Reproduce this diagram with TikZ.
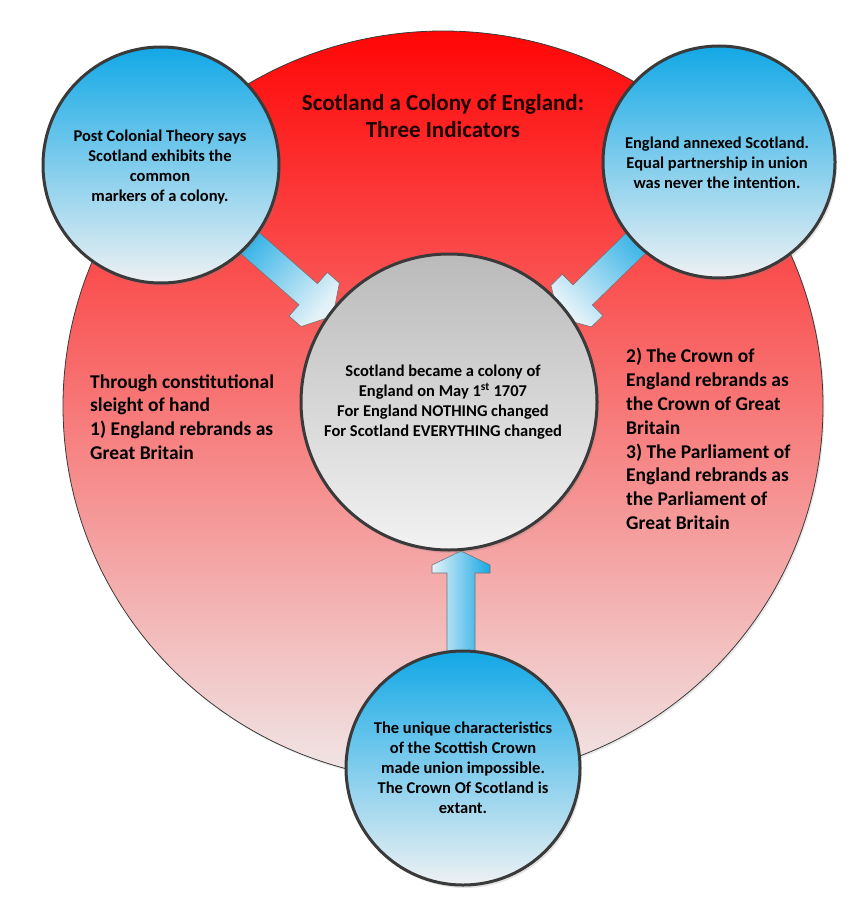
\documentclass[tikz,border=0pt]{standalone}
\usepackage{fontspec}
\setmainfont{Carlito}
\usetikzlibrary{calc,shadows,shapes.geometric}
\definecolor{redtop}{RGB}{255,6,6}
\definecolor{redmid}{RGB}{248,112,112}
\definecolor{redbot}{RGB}{240,232,232}
\definecolor{bluetop}{RGB}{18,168,230}
\definecolor{bluemid}{RGB}{95,195,236}
\definecolor{bluebot}{RGB}{238,241,243}
\definecolor{greytop}{RGB}{186,186,186}
\definecolor{greybot}{RGB}{242,242,242}
\definecolor{rimcol}{RGB}{58,58,58}
\definecolor{arrowblue}{RGB}{24,168,228}
\definecolor{arrowlight}{RGB}{228,242,248}
% #1 prefix, #2 tip, #3 tail, #4 shaft length, #5 tip-to-corner, #6 tip-to-back, #7 style
\newcommand{\blockarrow}[7]{%
  \coordinate (#1h1) at ($(#2)!#5pt!(#3)$);
  \coordinate (#1h2) at ($(#2)!#6pt!(#3)$);
  \coordinate (#1e) at ($(#2)!#4pt!(#3)$);
  \path[#7] (#2) -- ($(#1h1)!29pt!90:(#2)$) -- ($(#1h2)!29pt!90:(#2)$)
    -- ($(#1h2)!14pt!90:(#2)$) -- ($(#1e)!14pt!90:(#2)$)
    -- ($(#1e)!14pt!-90:(#2)$) -- ($(#1h2)!14pt!-90:(#2)$)
    -- ($(#1h2)!29pt!-90:(#2)$) -- ($(#1h1)!29pt!-90:(#2)$) -- cycle;
}
\tikzset{
  bigdisc/.style={ellipse, inner sep=0pt, outer sep=0pt, draw=rimcol, line width=0.8pt,
    top color=redtop, middle color=redmid, bottom color=redbot,
    drop shadow={shadow xshift=1.5pt, shadow yshift=-2pt, opacity=0.18}},
  bluedisc/.style={circle, inner sep=0pt, outer sep=0pt, draw=rimcol, line width=3pt,
    top color=bluetop, middle color=bluemid, bottom color=bluebot,
    drop shadow={shadow xshift=2pt, shadow yshift=-3pt, opacity=0.22}},
  greydisc/.style={circle, inner sep=0pt, outer sep=0pt, draw=rimcol, line width=3pt,
    top color=greytop, bottom color=greybot,
    drop shadow={shadow xshift=2pt, shadow yshift=-3pt, opacity=0.22}},
  arrowbody/.style={draw=black!55, line width=0.6pt, left color=arrowlight, right color=arrowblue},
  bodytxt/.style={font=\bfseries\fontsize{16.5}{20}\selectfont, align=center, text=black, inner sep=0pt},
  sidetxt/.style={font=\bfseries\fontsize{19.5}{23.8}\selectfont, align=left, text=black, inner sep=0pt, anchor=west},
  titletxt/.style={font=\bfseries\fontsize{23}{27}\selectfont, align=center, text={rgb,255:red,30;green,0;blue,0}, inner sep=0pt}
}
\begin{document}
\begin{tikzpicture}[x=1pt,y=-1pt]
\useasboundingbox (0,0) rectangle (864,904);
% big red disc
\node[bigdisc, minimum width=760pt, minimum height=750pt] (big) at (443,406) {};
% discs positions (nodes drawn after the arrows)
\coordinate (tailA) at (161,165);
\coordinate (tipA) at (333,316);
\coordinate (tailB) at (719,162);
\coordinate (tipB) at (559,318);
\coordinate (tailC) at (461,768);
\coordinate (tipC) at (461,551);
\blockarrow{a}{tipA}{tailA}{140}{17}{33}{arrowbody, shading angle=-131}
\blockarrow{b}{tipB}{tailB}{140}{17}{33}{arrowbody, shading angle=134}
\blockarrow{c}{tipC}{tailC}{120}{14}{22}{arrowbody}
% discs
\node[bluedisc, minimum size=236pt] (tl) at (tailA) {};
\node[bluedisc, minimum size=232pt] (tr) at (tailB) {};
\node[bluedisc, minimum size=234pt] (bot) at (463,768) {};
\node[greydisc, minimum size=296pt] (mid) at (449,402) {};
% texts
\node[titletxt] (title) at (443,116) {Scotland a Colony of England:\\Three Indicators};
\node[bodytxt] (tltxt) at (160,167) {Post Colonial Theory says\\Scotland exhibits the\\common\\markers of a colony.};
\node[bodytxt] (trtxt) at (717,163) {England annexed Scotland.\\Equal partnership in union\\was never the intention.};
\node[bodytxt] (bottxt) at (463,768) {The unique characteristics\\of the Scottish Crown\\made union impossible.\\The Crown Of Scotland is\\extant.};
\node[bodytxt] (midtxt) at (443,402) {Scotland became a colony of\\England on May 1\textsuperscript{st} 1707\\For England NOTHING changed\\For Scotland EVERYTHING changed};
\node[sidetxt] (lefttxt) at (90,417) {Through constitutional\\sleight of hand\\1) England rebrands as\\Great Britain};
\node[sidetxt] (righttxt) at (626,439) {2) The Crown of\\England rebrands as\\the Crown of Great\\Britain\\3) The Parliament of\\England rebrands as\\the Parliament of\\Great Britain};
\end{tikzpicture}
\end{document}
